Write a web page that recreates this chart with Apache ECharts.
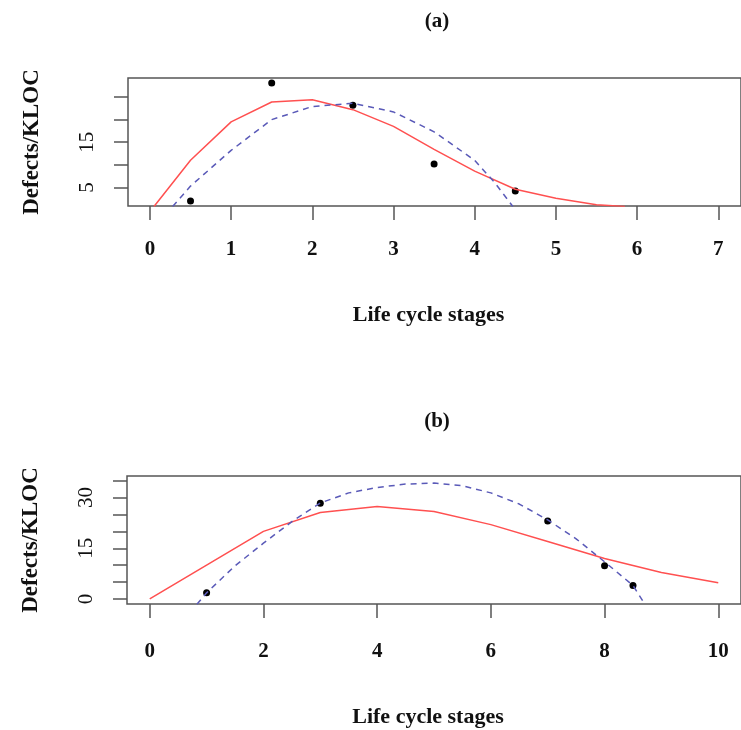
<!DOCTYPE html>
<html>
<head>
<meta charset="utf-8">
<script src="https://cdn.jsdelivr.net/npm/echarts@6/dist/echarts.min.js"></script>
<style>
    html, body { margin: 0; padding: 0; background: #fff; }
    #chart { width: 741px; height: 730px; }
</style>
</head>
<body>
<div id="chart"></div>
<script>
// panel (a)
var ptsAX = [0.5, 1.5, 2.5, 3.5, 4.5];
var ptsAY = [2.0, 28.1, 23.2, 10.2, 4.2];
var redAX = [0.05, 0.5, 1, 1.5, 2, 2.5, 3, 3.5, 4, 4.5, 5, 5.5, 5.85];
var redAY = [0.8, 11, 19.5, 23.9, 24.4, 22.2, 18.5, 13.4, 8.6, 4.6, 2.6, 1.2, 0.8];
var blueAX = [0.28, 0.5, 1, 1.5, 2, 2.5, 3, 3.5, 4, 4.25, 4.47];
var blueAY = [0.8, 5.3, 13.2, 20, 22.9, 23.6, 21.7, 17.3, 11, 6, 0.8];
var xTicksA = [0, 1, 2, 3, 4, 5, 6, 7];
var yTicksA = [5, 10, 15, 20, 25];
var yLabelsA = [5, 15];

// panel (b)
var ptsBX = [1, 3, 7, 8, 8.5];
var ptsBY = [1.8, 28.3, 23.1, 9.8, 4.0];
var redBX = [0, 1, 2, 3, 4, 5, 6, 7, 8, 9, 10];
var redBY = [0, 10, 20, 25.6, 27.4, 25.9, 22, 17, 12, 7.8, 4.8];
var blueBX = [0.83, 1, 1.5, 2, 2.5, 3, 3.5, 4, 4.5, 5, 5.5, 6, 6.5, 7, 7.5, 8, 8.5, 8.71];
var blueBY = [-1.6, 1.8, 9.8, 16.5, 22.9, 28.4, 31.4, 33, 34, 34.3, 33.5, 31.4, 28.1, 23.4, 17.8, 11, 4, -1.6];
var xTicksB = [0, 2, 4, 6, 8, 10];
var yTicksB = [0, 5, 10, 15, 20, 25, 30, 35];
var yLabelsB = [0, 15, 30];

var FONT = 'Liberation Serif';

function pairs(xs, ys) {
    return xs.map(function (x, i) { return [x, ys[i]]; });
}

function xAxisOf(idx, min, max, ticks, shift) {
    return {
        type: 'value', gridIndex: idx, min: min, max: max,
        name: 'Life cycle stages', nameLocation: 'middle', nameGap: 98 + shift,
        nameTextStyle: { fontFamily: FONT, fontWeight: 'bold', fontSize: 22, color: '#111', padding: [0, 12, 0, 0] },
        axisLine: { show: false, onZero: false },
        splitLine: { show: false },
        axisTick: { show: true, inside: false, length: 14, customValues: ticks, lineStyle: { color: '#555', width: 1.5 } },
        axisLabel: { customValues: ticks, margin: 33 + shift, fontFamily: FONT, fontWeight: 'bold', fontSize: 21, color: '#111' }
    };
}

function yAxisOf(idx, min, max, ticks, labels) {
    return {
        type: 'value', gridIndex: idx, min: min, max: max,
        name: 'Defects/KLOC', nameLocation: 'middle', nameGap: 84,
        nameTextStyle: { fontFamily: FONT, fontWeight: 'bold', fontSize: 23, color: '#111' },
        axisLine: { show: false, onZero: false },
        splitLine: { show: false },
        axisTick: { show: true, inside: false, length: 14, customValues: ticks, lineStyle: { color: '#555', width: 1.5 } },
        axisLabel: { customValues: labels, rotate: 90, margin: 30, fontFamily: FONT, fontSize: 21, color: '#111' }
    };
}

function lineSeries(idx, data, color, dashed) {
    return {
        type: 'line', xAxisIndex: idx, yAxisIndex: idx, data: data,
        showSymbol: false, clip: true, silent: true,
        lineStyle: { color: color, width: 1.5, type: dashed ? [6, 5] : 'solid' }
    };
}

function dotSeries(idx, data) {
    return {
        type: 'scatter', xAxisIndex: idx, yAxisIndex: idx, data: data,
        symbolSize: 7, itemStyle: { color: '#000', opacity: 1 }
    };
}

var chart = echarts.init(document.getElementById('chart'), null, { renderer: 'canvas' });

chart.setOption({
    animation: false,
    backgroundColor: '#fff',
    title: [
        { text: '(a)', left: 432, top: 6, textAlign: 'center', textStyle: { fontFamily: FONT, fontWeight: 'bold', fontSize: 21, color: '#111' } },
        { text: '(b)', left: 432, top: 406, textAlign: 'center', textStyle: { fontFamily: FONT, fontWeight: 'bold', fontSize: 21, color: '#111' } }
    ],
    grid: [
        { left: 128, top: 78, width: 622, height: 128, show: true, borderColor: '#555', borderWidth: 1.5 },
        { left: 127, top: 476, width: 623, height: 128, show: true, borderColor: '#555', borderWidth: 1.5 }
    ],
    xAxis: [
        xAxisOf(0, -0.27, 7.28, xTicksA, 0),
        xAxisOf(1, -0.4, 10.4, xTicksB, 4)
    ],
    yAxis: [
        yAxisOf(0, 0.9, 29.2, yTicksA, yLabelsA),
        yAxisOf(1, -1.5, 36.4, yTicksB, yLabelsB)
    ],
    series: [
        lineSeries(0, pairs(redAX, redAY), '#ff5050', false),
        lineSeries(0, pairs(blueAX, blueAY), '#5a5ab8', true),
        dotSeries(0, pairs(ptsAX, ptsAY)),
        lineSeries(1, pairs(redBX, redBY), '#ff5050', false),
        lineSeries(1, pairs(blueBX, blueBY), '#5a5ab8', true),
        dotSeries(1, pairs(ptsBX, ptsBY))
    ]
});
</script>
</body>
</html>
